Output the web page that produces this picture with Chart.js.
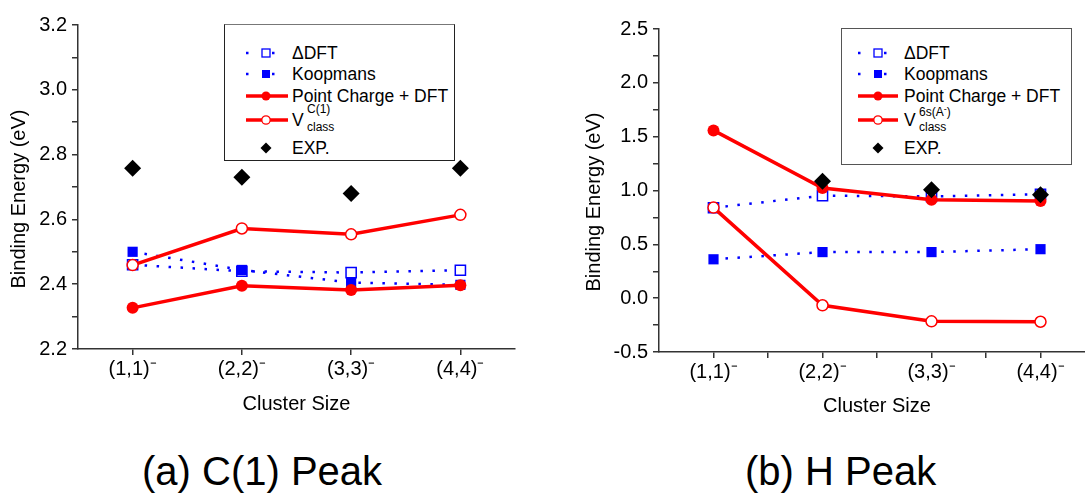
<!DOCTYPE html>
<html>
<head>
<meta charset="utf-8">
<script src="https://cdn.jsdelivr.net/npm/chart.js@4.4.0/dist/chart.umd.min.js"></script>
<style>
    html, body { margin: 0; padding: 0; background: #fff; }
    body { width: 1085px; height: 494px; overflow: hidden; position: relative;
           font-family: "Liberation Sans", Arial, sans-serif; color: #000; }
    canvas { position: absolute; top: 0; }
    #chartC1 { left: 0; }
    #chartH { left: 575px; }
    .legend { position: absolute; box-sizing: border-box; background: #fff; z-index: 2; }
    #legendC1 { left: 224px; top: 24px; width: 231px; height: 137px; border: 1.5px solid #222; border-top-color: #777; }
    #legendH { left: 841px; top: 28px; width: 231px; height: 137px; border: 1.5px solid #555; }
    .row { position: absolute; left: 0; height: 22px; line-height: 22px; font-size: 17.5px; white-space: nowrap; }
    .row svg { position: absolute; top: 3px; }
    .row .txt { position: absolute; top: 0; }
    .sup, .sub { position: absolute; font-size: 12px; line-height: 12px; }
    .ytitle { position: absolute; width: 220px; height: 24px; line-height: 24px; font-size: 20px;
              text-align: center; white-space: nowrap; transform: rotate(-90deg); z-index: 2; }
    .caption { position: absolute; top: 451px; font-size: 40px; line-height: 40px; white-space: nowrap; }
</style>
</head>
<body>
<canvas id="chartC1" width="530" height="425"></canvas>
<canvas id="chartH" width="535" height="425"></canvas>
<div class="legend" id="legendC1"></div>
<div class="legend" id="legendH"></div>
<div class="ytitle" style="left:-92px;top:187px">Binding Energy (eV)</div>
<div class="ytitle" style="left:483px;top:190px">Binding Energy (eV)</div>
<div class="caption" style="left:142px">(a) C(1) Peak</div>
<div class="caption" style="left:745px">(b) H Peak</div>

<script>
// 데이터
const clusters = ['(1,1)⁻', '(2,2)⁻', '(3,3)⁻', '(4,4)⁻'];
const clusterX = [1, 2, 3, 4];
const seriesNames = ['ΔDFT', 'Koopmans', 'Point Charge + DFT', 'V', 'EXP.'];

// (a) C(1) Peak
const c1DeltaDFT = [2.460, 2.440, 2.436, 2.443];
const c1Koopmans = [2.500, 2.444, 2.405, 2.398];
const c1PointCharge = [2.327, 2.395, 2.382, 2.397];
const c1Vclass = [2.459, 2.572, 2.554, 2.614];
const c1Exp = [2.758, 2.730, 2.680, 2.758];
const c1Ticks = [2.2, 2.4, 2.6, 2.8, 3.0, 3.2];

// (b) H Peak
const hDeltaDFT = [0.840, 0.952, 0.945, 0.965];
const hKoopmans = [0.361, 0.428, 0.428, 0.455];
const hPointCharge = [1.558, 1.023, 0.915, 0.902];
const hVclass = [0.841, -0.066, -0.215, -0.219];
const hExp = [null, 1.085, 1.008, 0.961];
const hTicks = [-0.5, 0.0, 0.5, 1.0, 1.5, 2.0, 2.5];

const BLUE = '#0000ff';
const RED = '#ff0000';
const AXIS = '#333';

Chart.defaults.font.family = '"Liberation Sans", Arial, sans-serif';
Chart.defaults.font.size = 20;
Chart.defaults.color = '#000';

const toPoints = vals => vals.map((v, i) => ({ x: clusterX[i], y: v }));

function makeDatasets(delta, koop, pc, vcl, exp) {
    return [
        {
            label: seriesNames[0], data: toPoints(delta), order: 4,
            borderColor: BLUE, borderWidth: 2.5, borderDash: [2.5, 9.5],
            pointStyle: 'rect', pointRadius: 7.2, pointBorderWidth: 1.5,
            pointBorderColor: BLUE, pointBackgroundColor: '#fff'
        },
        {
            label: seriesNames[1], data: toPoints(koop), order: 3,
            borderColor: BLUE, borderWidth: 2.5, borderDash: [2.5, 9.5],
            pointStyle: 'rect', pointRadius: 7.2, pointBorderWidth: 0,
            pointBackgroundColor: BLUE
        },
        {
            label: seriesNames[2], data: toPoints(pc), order: 1,
            borderColor: RED, borderWidth: 3.5,
            pointStyle: 'circle', pointRadius: 6, pointBorderWidth: 0,
            pointBackgroundColor: RED
        },
        {
            label: seriesNames[3], data: toPoints(vcl), order: 2,
            borderColor: RED, borderWidth: 3.5,
            pointStyle: 'circle', pointRadius: 5.5, pointBorderWidth: 1.5,
            pointBorderColor: RED, pointBackgroundColor: '#fff'
        },
        {
            label: seriesNames[4], data: toPoints(exp), order: 0, showLine: false,
            pointStyle: 'rectRot', pointRadius: 8.5, pointBorderWidth: 0,
            pointBackgroundColor: '#000'
        }
    ];
}

function makeOptions(yTicks, yStep, yWidth, xHeight, padTop, titlePad, xMinor) {
    const isMajorY = v => yTicks.some(t => Math.abs(t - v) < 1e-6);
    return {
        responsive: false,
        animation: false,
        devicePixelRatio: 1,
        layout: { padding: { top: padTop, right: 15, left: 0, bottom: 0 } },
        plugins: { legend: { display: false }, tooltip: { enabled: false } },
        scales: {
            x: {
                type: 'linear', min: 0.5, max: 4.5,
                afterFit: s => { s.height = xHeight; },
                afterBuildTicks: s => {
                    s.ticks = s.ticks.filter(t => t.value > 0.5 && t.value < 4.5 &&
                        (xMinor || Number.isInteger(t.value)));
                },
                ticks: {
                    stepSize: 0.5, padding: 2, maxRotation: 0, autoSkip: false,
                    callback: v => {
                        const i = clusterX.indexOf(v);
                        return i >= 0 ? clusters[i] : '';
                    }
                },
                grid: { drawOnChartArea: false, tickLength: 6, color: AXIS, lineWidth: 1.5 },
                border: { color: AXIS, width: 1.5 },
                title: { display: true, text: 'Cluster Size', font: { size: 20 }, padding: { top: 0, bottom: titlePad } }
            },
            y: {
                min: yTicks[0], max: yTicks[yTicks.length - 1],
                afterFit: s => { s.width = yWidth; },
                ticks: {
                    stepSize: yStep, padding: 5, autoSkip: false,
                    callback: v => isMajorY(v) ? v.toFixed(1) : ''
                },
                grid: { drawOnChartArea: false, tickLength: 6, color: AXIS, lineWidth: 1.5 },
                border: { color: AXIS, width: 1.5 },
                title: { display: false }
            }
        }
    };
}

new Chart(document.getElementById('chartC1'), {
    type: 'line',
    data: { datasets: makeDatasets(c1DeltaDFT, c1Koopmans, c1PointCharge, c1Vclass, c1Exp) },
    options: makeOptions(c1Ticks, 0.1, 78, 76, 25, 9, false)
});

new Chart(document.getElementById('chartH'), {
    type: 'line',
    data: { datasets: makeDatasets(hDeltaDFT, hKoopmans, hPointCharge, hVclass, hExp) },
    options: makeOptions(hTicks, 0.25, 84, 73, 29, 7, true)
});

// 범례 (HTML)
const rowY = [53, 74, 96, 120, 148];
const sampleSvg = [
    '<line x1="1" y1="8" x2="32" y2="8" stroke="' + BLUE + '" stroke-width="2.5" stroke-dasharray="2.5 23.5"/>' +
        '<rect x="M-4" y="4" width="8" height="8" fill="#fff" stroke="' + BLUE + '" stroke-width="1.3"/>',
    '<line x1="1" y1="8" x2="32" y2="8" stroke="' + BLUE + '" stroke-width="2.5" stroke-dasharray="2.5 23.5"/>' +
        '<rect x="M-4" y="4" width="8" height="8" fill="' + BLUE + '"/>',
    '<line x1="1" y1="8" x2="W" y2="8" stroke="' + RED + '" stroke-width="3.5"/>' +
        '<circle cx="M" cy="8" r="4.5" fill="' + RED + '"/>',
    '<line x1="1" y1="8" x2="W" y2="8" stroke="' + RED + '" stroke-width="3.5"/>' +
        '<circle cx="M" cy="8" r="4.2" fill="#fff" stroke="' + RED + '" stroke-width="1.3"/>',
    '<polygon points="M,2.5 M+5.5,8 M,13.5 M-5.5,8" fill="#000"/>'
];

function buildLegend(id, boxTop, svgLeft, lineEnd, mid, textLeft, supText) {
    const box = document.getElementById(id);
    let html = '';
    seriesNames.forEach((name, i) => {
        const top = rowY[i] - boxTop - 11 - 1.5;
        const svg = sampleSvg[i]
            .replace(/M\+5\.5/g, mid + 5.5).replace(/M-5\.5/g, mid - 5.5).replace(/M-4/g, mid - 4)
            .replace(/\bM\b/g, mid).replace(/\bW\b/g, lineEnd);
        let label = name;
        if (i === 3) {
            label = 'V<span class="sup" style="left:15px;top:-6px">' + supText + '</span>' +
                '<span class="sub" style="left:15px;top:12px">class</span>';
        }
        html += '<div class="row" style="top:' + top + 'px">' +
            '<svg width="46" height="16" style="left:' + svgLeft + 'px">' + svg + '</svg>' +
            '<span class="txt" style="left:' + textLeft + 'px">' + label + '</span></div>';
    });
    box.innerHTML = html;
}

buildLegend('legendC1', 24, 20, 43, 21, 67, 'C(1)');
buildLegend('legendH', 28, 15, 41, 21, 62, '6s(A<span style="font-size:9px;vertical-align:4px">-</span>)');
</script>
</body>
</html>
